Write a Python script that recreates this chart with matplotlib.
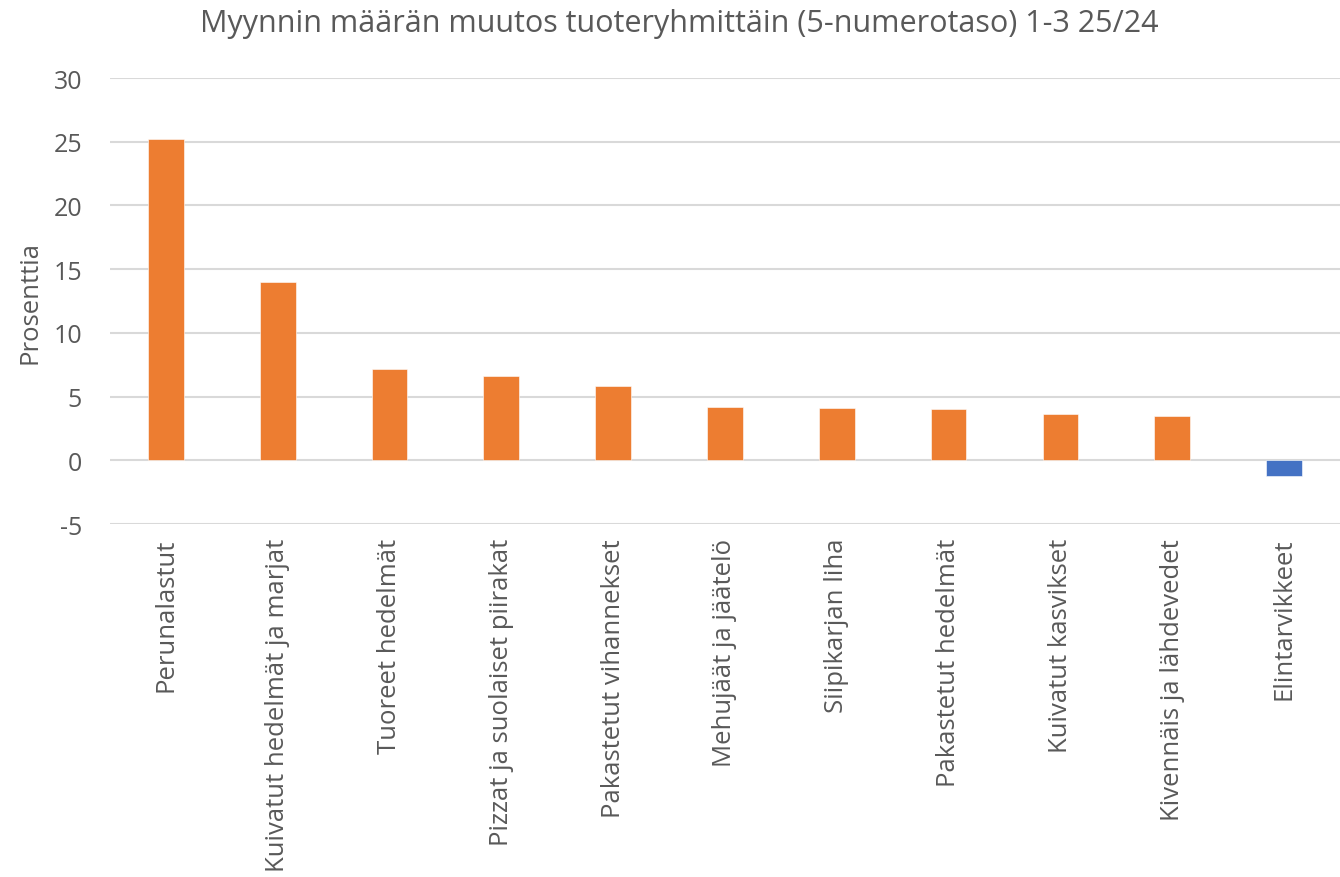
import matplotlib
matplotlib.use("Agg")
import matplotlib.pyplot as plt

categories = ["Perunalastut", "Kuivatut hedelmät ja marjat", "Tuoreet hedelmät",
              "Pizzat ja suolaiset piirakat", "Pakastetut vihannekset",
              "Mehujäät ja jäätelö", "Siipikarjan liha", "Pakastetut hedelmät",
              "Kuivatut kasvikset", "Kivennäis ja lähdevedet", "Elintarvikkeet"]
values = [25.2, 14.0, 7.2, 6.6, 5.8, 4.2, 4.1, 4.0, 3.6, 3.5, -1.2]
yticks = [-5, 0, 5, 10, 15, 20, 25, 30]

title = "Myynnin määrän muutos tuoteryhmittäin (5-numerotaso) 1-3 25/24"
ylabel = "Prosenttia"

orange = "#ED7D31"
blue = "#4472C4"
colors = [blue if v < 0 else orange for v in values]

plt.rcParams['font.family'] = ['Open Sans', 'DejaVu Sans']
fig = plt.figure(figsize=(13.4, 8.78), dpi=100)
ax = fig.add_axes([0.082, 0.402, 0.918, 0.508])

x = list(range(len(categories)))
ax.bar(x, values, width=0.32, color=colors, edgecolor="white", linewidth=0.4, zorder=3)
ax.set_xlim(-0.5, len(categories) - 0.5)
ax.set_ylim(-5, 30)
ax.set_yticks(yticks)
ax.set_yticklabels([str(t) for t in yticks], fontsize=18, color="#595959")
ax.yaxis.grid(True, color="#D9D9D9", linewidth=1.5, zorder=0)
ax.set_axisbelow(True)
ax.tick_params(axis='y', length=0, pad=20)
ax.tick_params(axis='x', length=0, pad=10)
ax.set_xticks(x)
ax.set_xticklabels(categories, rotation=90, fontsize=18.5, color="#595959", va="top")
for s in ax.spines.values():
    s.set_visible(False)
ax.set_ylabel(ylabel, fontsize=18.5, color="#595959", labelpad=8)
fig.text(0.507, 0.973, title, ha="center", va="center", fontsize=22, color="#595959")

fig.savefig("out.png", dpi=100)
